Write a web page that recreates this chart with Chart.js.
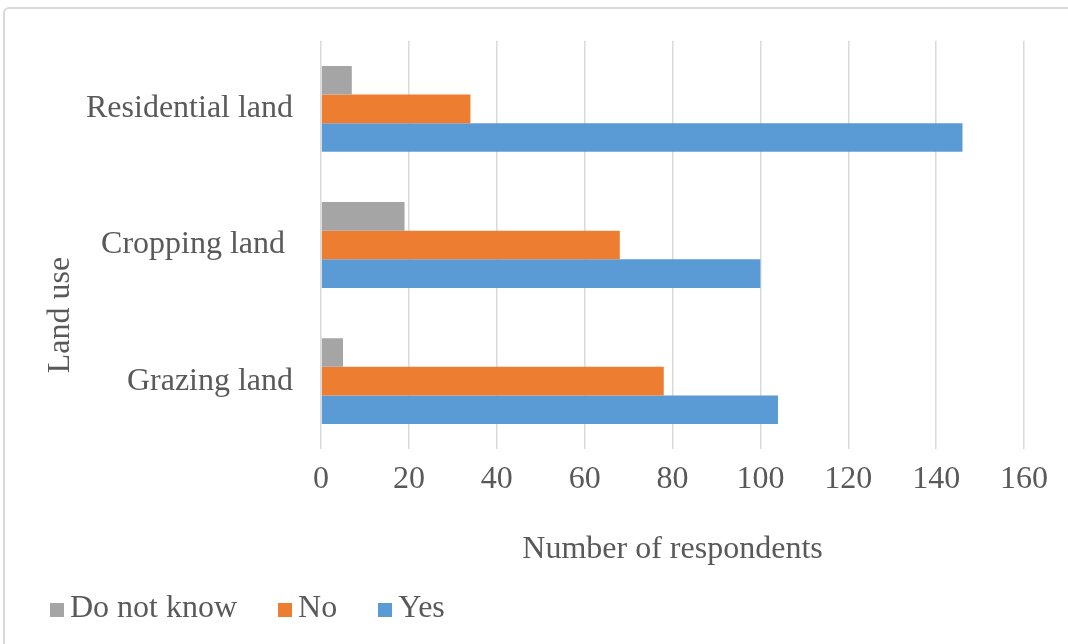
<!DOCTYPE html>
<html>
<head>
<meta charset="utf-8">
<script src="https://cdn.jsdelivr.net/npm/chart.js@4"></script>
<style>
  body { margin: 0; background: #fff; }
  #wrap { position: relative; width: 1068px; height: 644px; overflow: hidden; }
  #frame {
    position: absolute; left: 3px; top: 7px; width: 1090px; height: 660px;
    border: 2px solid #d9d9d9; border-radius: 6px; box-sizing: border-box;
  }
  #legend {
    position: absolute; left: 50px; top: 588px; display: flex; align-items: baseline;
    font-family: 'Liberation Serif', 'Times New Roman', serif; font-size: 32px; color: #595959;
  }
  .item { display: flex; align-items: baseline; margin-right: 41px; }
  .box { display: inline-block; width: 14px; height: 14px; margin-right: 6px; }
</style>
</head>
<body>
<div id="wrap">
  <div id="frame"></div>
  <canvas id="chart" width="1068" height="644"></canvas>
  <div id="legend"></div>
</div>
<script>
// Data
const categories = ['Residential land', 'Cropping land ', 'Grazing land'];
const seriesNames = ['Do not know', 'No', 'Yes'];
const doNotKnow = [7, 19, 5];
const no = [34, 68, 78];
const yes = [146, 100, 104];
const seriesColors = ['#a5a5a5', '#ed7d31', '#5b9bd5'];

const textColor = '#595959';
const fontFamily = "'Liberation Serif', 'Times New Roman', serif";

// y axis title sits lower than the axis centre in the original, draw it by hand
const yTitlePlugin = {
  id: 'yTitle',
  afterDraw(chart) {
    const ctx = chart.ctx;
    ctx.save();
    ctx.translate(69, 315);
    ctx.rotate(-Math.PI / 2);
    ctx.font = '32px ' + fontFamily;
    ctx.fillStyle = textColor;
    ctx.textAlign = 'center';
    ctx.textBaseline = 'alphabetic';
    ctx.fillText('Land use', 0, 0);
    ctx.restore();
  }
};

const allValues = [doNotKnow, no, yes];

new Chart(document.getElementById('chart'), {
  type: 'bar',
  data: {
    labels: categories,
    datasets: seriesNames.map((name, i) => ({
      label: name,
      data: allValues[i],
      backgroundColor: seriesColors[i],
      borderWidth: 0,
      barPercentage: 1,
      categoryPercentage: 0.63
    }))
  },
  options: {
    indexAxis: 'y',
    responsive: false,
    animation: false,
    layout: { padding: { left: 58, right: 44, top: 36, bottom: 75 } },
    plugins: {
      legend: { display: false },
      tooltip: { enabled: false }
    },
    scales: {
      x: {
        min: 0,
        max: 160,
        ticks: {
          stepSize: 20,
          color: textColor,
          padding: 11,
          font: { family: fontFamily, size: 32 }
        },
        grid: { color: '#d9d9d9', lineWidth: 1.5, drawTicks: false },
        border: { display: false },
        title: {
          display: true,
          text: 'Number of respondents',
          color: textColor,
          font: { family: fontFamily, size: 32 },
          padding: { top: 21, bottom: 0 }
        }
      },
      y: {
        ticks: {
          color: textColor,
          padding: 28,
          font: { family: fontFamily, size: 32, lineHeight: 0.8 }
        },
        grid: { display: false, drawTicks: false },
        border: { display: false }
      }
    }
  },
  plugins: [yTitlePlugin]
});

// Legend
const legend = document.getElementById('legend');
seriesNames.forEach((name, i) => {
  const item = document.createElement('div');
  item.className = 'item';
  item.innerHTML = `<span class="box" style="background:${seriesColors[i]}"></span>${name}`;
  legend.appendChild(item);
});
</script>
</body>
</html>
